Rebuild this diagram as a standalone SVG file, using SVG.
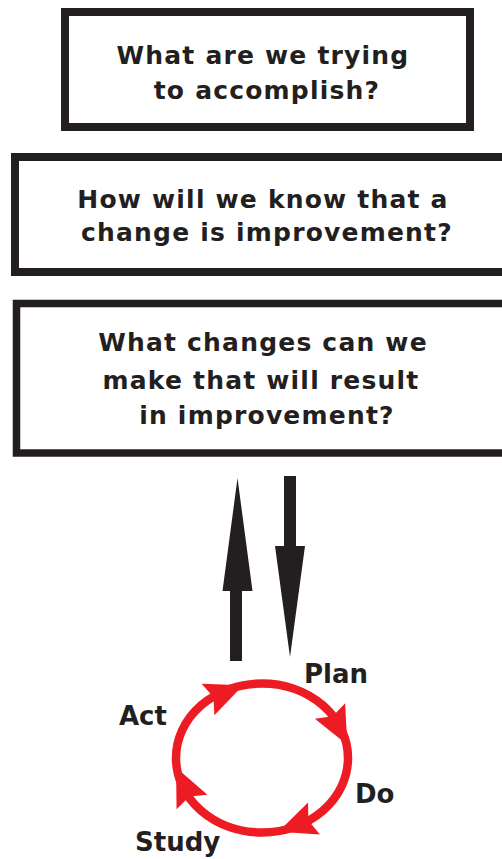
<svg xmlns="http://www.w3.org/2000/svg" width="502" height="859" viewBox="0 0 502 859">
  <style>
    .box { fill: #ffffff; stroke: #231f20; stroke-width: 8; }
    .q { font-family: "DejaVu Sans", "Liberation Sans", sans-serif; font-weight: 700; font-size: 25px; letter-spacing: 1.2px; fill: #231f20; text-anchor: middle; }
    .lbl { font-family: "DejaVu Sans", "Liberation Sans", sans-serif; font-weight: 700; font-size: 26px; fill: #231f20; }
    .big { fill: #231f20; }
    .ring { fill: none; stroke: #ed1c24; stroke-width: 8.5; }
    .head { fill: #ed1c24; }
  </style>
  <defs>
    <!-- barbed arrowhead, base centred at origin, pointing along +x -->
    <path id="barb" d="M38,0 L0,-17 L6,0 L0,17 Z"/>
  </defs>

  <rect width="502" height="859" fill="#ffffff"/>

  <g id="aim">
    <rect class="box" x="65" y="12" width="405" height="115"/>
    <text class="q" x="263" y="64">What are we trying</text>
    <text class="q" x="267" y="99">to accomplish?</text>
  </g>

  <g id="measure">
    <rect class="box" x="15" y="157" width="500" height="115"/>
    <text class="q" x="263" y="208">How will we know that a</text>
    <text class="q" x="267" y="241">change is improvement?</text>
  </g>

  <g id="changes">
    <rect class="box" x="16.5" y="303.5" width="500" height="149.5" style="stroke-width:7.5"/>
    <text class="q" x="263" y="351">What changes can we</text>
    <text class="q" x="261" y="389">make that will result</text>
    <text class="q" x="267" y="424">in improvement?</text>
  </g>

  <g id="connectors">
    <!-- up arrow -->
    <polygon class="big" points="237.5,478 252.5,591 242,591 242,661 230,661 230,591 222.5,591"/>
    <!-- down arrow -->
    <polygon class="big" points="284,476 296,476 296,546 305,546 290,657 275,546 284,546"/>
  </g>

  <g id="pdsa">
    <ellipse class="ring" cx="262" cy="758" rx="86" ry="74.5"/>
    <use href="#barb" class="head" transform="translate(208,699.5) rotate(-22)"/>
    <use href="#barb" class="head" transform="translate(330,711) rotate(63)"/>
    <use href="#barb" class="head" transform="translate(314,818.5) rotate(159.6)"/>
    <use href="#barb" class="head" transform="translate(192,802) rotate(-114.8)"/>
    <text class="lbl" x="304" y="683">Plan</text>
    <text class="lbl" x="119" y="725">Act</text>
    <text class="lbl" x="355" y="803">Do</text>
    <text class="lbl" x="135" y="851">Study</text>
  </g>
</svg>
